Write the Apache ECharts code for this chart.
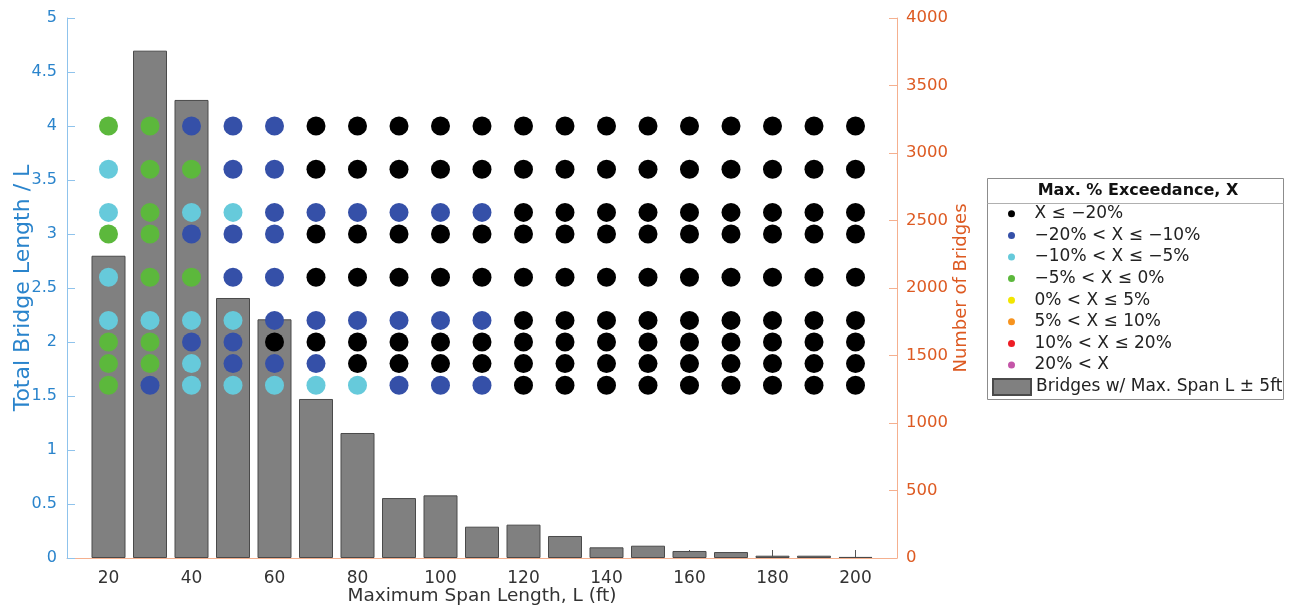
<!DOCTYPE html>
<html>
<head>
<meta charset="utf-8">
<script src="https://cdn.jsdelivr.net/npm/echarts@6/dist/echarts.min.js"></script>
<style>
html,body{margin:0;padding:0;background:#fff;}
#chart{width:1291px;height:610px;}
</style>
</head>
<body>
<div id="chart"></div>
<script>
// ---- data ----
const spans = [20, 30, 40, 50, 60, 70, 80, 90, 100, 110, 120, 130, 140, 150, 160, 170, 180, 190, 200];
const bridgeCounts = [2239, 3758, 3393, 1926, 1768, 1178, 926, 444, 464, 232, 247, 163, 79, 91, 52, 44, 17, 17, 8];
const lengthRatios = [1.6, 1.8, 2.0, 2.2, 2.6, 3.0, 3.2, 3.6, 4.0];
const leftTicks = [0, 0.5, 1, 1.5, 2, 2.5, 3, 3.5, 4, 4.5, 5];
const rightTicks = [0, 500, 1000, 1500, 2000, 2500, 3000, 3500, 4000];
const classNames = ['X ≤ −20%', '−20% < X ≤ −10%', '−10% < X ≤ −5%', '−5% < X ≤ 0%',
                    '0% < X ≤ 5%', '5% < X ≤ 10%', '10% < X ≤ 20%', '20% < X'];
const classColors = ['#000000', '#3550a8', '#66cadb', '#5cb83c', '#f2e600', '#f7931e', '#ee1c24', '#c455a8'];
// class index for each span (rows) at each length ratio (bottom to top)
const exceedanceClass = [
  [3,3,3,2,2,3,2,2,3], // 20
  [1,3,3,2,3,3,3,3,3], // 30
  [2,2,1,2,3,1,2,3,1], // 40
  [2,1,1,2,1,1,2,1,1], // 50
  [2,1,0,1,1,1,1,1,1], // 60
  [2,1,0,1,0,0,1,0,0], // 70
  [2,0,0,1,0,0,1,0,0], // 80
  [1,0,0,1,0,0,1,0,0], // 90
  [1,0,0,1,0,0,1,0,0], // 100
  [1,0,0,1,0,0,1,0,0], // 110
  [0,0,0,0,0,0,0,0,0], // 120
  [0,0,0,0,0,0,0,0,0], // 130
  [0,0,0,0,0,0,0,0,0], // 140
  [0,0,0,0,0,0,0,0,0], // 150
  [0,0,0,0,0,0,0,0,0], // 160
  [0,0,0,0,0,0,0,0,0], // 170
  [0,0,0,0,0,0,0,0,0], // 180
  [0,0,0,0,0,0,0,0,0], // 190
  [0,0,0,0,0,0,0,0,0]  // 200
];
const barName = 'Bridges w/ Max. Span L ± 5ft';

// ---- build ----
const FONT = 'DejaVu Sans';
const BLUE = '#2a84cc', BLUE_LINE = '#8fc3ec';
const ORANGE = '#dd5a22', ORANGE_LINE = '#f5b08f';

const scatterData = classNames.map(() => []);
spans.forEach((s, i) => {
  lengthRatios.forEach((r, j) => {
    scatterData[exceedanceClass[i][j]].push([s, r]);
  });
});

const series = [{
  name: barName,
  type: 'bar',
  xAxisIndex: 0,
  yAxisIndex: 1,
  barWidth: 34,
  data: spans.map((s, i) => [s, bridgeCounts[i]]),
  itemStyle: {color: '#808080', borderColor: '#4a4a4a', borderWidth: 1},
  z: 1
}];
classNames.forEach((n, k) => {
  series.push({
    name: n,
    type: 'scatter',
    xAxisIndex: 0,
    yAxisIndex: 0,
    symbol: 'circle',
    symbolSize: 19,
    data: scatterData[k],
    itemStyle: {color: classColors[k], opacity: 1},
    z: 3
  });
});

const chart = echarts.init(document.getElementById('chart'), null, {renderer: 'canvas'});
chart.setOption({
  animation: false,
  backgroundColor: '#fff',
  grid: {left: 67, right: 394, top: 18, bottom: 52, containLabel: false, outerBoundsMode: 'none'},
  xAxis: {
    type: 'value', min: 10, max: 210, splitNumber: 10,
    name: 'Maximum Span Length, L (ft)', nameLocation: 'middle', nameGap: 29, nameMoveOverlap: false,
    nameTextStyle: {fontFamily: FONT, fontSize: 18.5, color: '#333'},
    axisLine: {show: true, lineStyle: {color: ORANGE_LINE, width: 1}},
    axisTick: {show: true, inside: true, length: 8, lineStyle: {color: '#555'}},
    axisLabel: {
      fontFamily: FONT, fontSize: 17, color: '#333', margin: 12,
      showMinLabel: false, showMaxLabel: false,
      formatter: v => (v % 20 === 0 ? String(v) : '')
    },
    splitLine: {show: false}
  },
  yAxis: [{
    type: 'value', min: leftTicks[0], max: leftTicks[leftTicks.length - 1], interval: leftTicks[1] - leftTicks[0], position: 'left',
    name: 'Total Bridge Length / L', nameLocation: 'middle', nameGap: 33, nameRotate: 90, nameMoveOverlap: false,
    nameTextStyle: {fontFamily: FONT, fontSize: 22, color: BLUE},
    axisLine: {show: true, lineStyle: {color: BLUE_LINE, width: 1}},
    axisTick: {show: true, inside: true, length: 8, lineStyle: {color: BLUE_LINE}},
    axisLabel: {fontFamily: FONT, fontSize: 16, color: BLUE, margin: 10},
    splitLine: {show: false}
  }, {
    type: 'value', min: rightTicks[0], max: rightTicks[rightTicks.length - 1], interval: rightTicks[1] - rightTicks[0], position: 'right',
    name: 'Number of Bridges', nameLocation: 'middle', nameGap: 55, nameRotate: 90, nameMoveOverlap: false,
    nameTextStyle: {fontFamily: FONT, fontSize: 18, color: ORANGE},
    axisLine: {show: true, lineStyle: {color: ORANGE_LINE, width: 1}},
    axisTick: {show: true, inside: true, length: 8, lineStyle: {color: ORANGE_LINE}},
    axisLabel: {fontFamily: FONT, fontSize: 16.5, color: ORANGE, margin: 9, formatter: v => String(v)},
    splitLine: {show: false}
  }],
  legend: [{
    orient: 'vertical', left: 1008, top: 203, padding: 0,
    itemWidth: 36, itemHeight: 7, itemGap: 0,
    selectedMode: false,
    textStyle: {fontFamily: FONT, fontSize: 17, color: '#222', lineHeight: 21.6},
    data: classNames.map(n => ({name: n, icon: 'circle'}))
  }, {
    orient: 'vertical', left: 992, top: 378, padding: 0,
    itemWidth: 38, itemHeight: 16,
    selectedMode: false,
    textStyle: {fontFamily: FONT, fontSize: 17, color: '#222', lineHeight: 17},
    data: [{name: barName, icon: 'rect'}]
  }],
  graphic: [{
    type: 'rect', silent: true, z: -1,
    shape: {x: 987.5, y: 178.5, width: 296, height: 221},
    style: {fill: '#fff', stroke: '#8c8c8c', lineWidth: 1}
  }, {
    type: 'line', silent: true,
    shape: {x1: 987.5, y1: 203.5, x2: 1283.5, y2: 203.5},
    style: {stroke: '#b0b0b0', lineWidth: 1}
  }, {
    type: 'text', silent: true,
    x: 1138, y: 191,
    style: {text: 'Max. % Exceedance, X', fontFamily: FONT, fontSize: 16, fontWeight: 'bold',
            fill: '#111', align: 'center', verticalAlign: 'middle'}
  }],
  series: series
});
</script>
</body>
</html>
